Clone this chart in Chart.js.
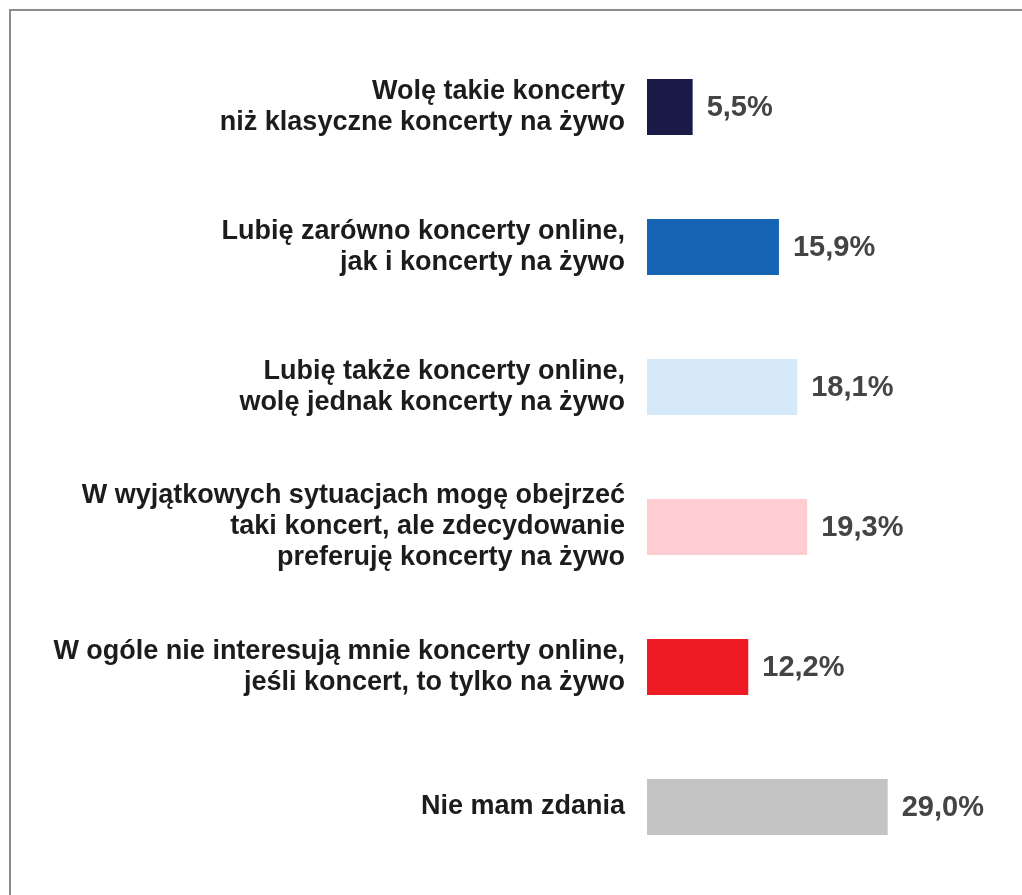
<!DOCTYPE html>
<html>
<head>
<meta charset="utf-8">
<script src="https://cdn.jsdelivr.net/npm/chart.js@4"></script>
<style>
  html, body { margin: 0; padding: 0; background: #fff; }
  #wrap { position: relative; width: 1022px; height: 895px; overflow: hidden; }
  #frame { position: absolute; left: 9px; top: 9px; right: -10px; bottom: -10px;
           border-left: 2px solid #8c8c8c; border-top: 2px solid #8c8c8c; }
  canvas { position: absolute; left: 0; top: 0; }
</style>
</head>
<body>
<div id="wrap">
  <div id="frame"></div>
  <canvas id="chart" width="1022" height="895"></canvas>
</div>
<script>
// Etykiety kategorii (wieloliniowe)
const categories = [
  ['Wolę takie koncerty', 'niż klasyczne koncerty na żywo'],
  ['Lubię zarówno koncerty online,', 'jak i koncerty na żywo'],
  ['Lubię także koncerty online,', 'wolę jednak koncerty na żywo'],
  ['W wyjątkowych sytuacjach mogę obejrzeć', 'taki koncert, ale zdecydowanie', 'preferuję koncerty na żywo'],
  ['W ogóle nie interesują mnie koncerty online,', 'jeśli koncert, to tylko na żywo'],
  ['Nie mam zdania']
];
const values = [5.5, 15.9, 18.1, 19.3, 12.2, 29.0];
const valueLabels = ['5,5%', '15,9%', '18,1%', '19,3%', '12,2%', '29,0%'];
const barColors = ['#1b1a47', '#1565b4', '#d6e9f8', '#fdcdd2', '#ed1c24', '#c4c4c4'];

// Wartości procentowe obok słupków
const valuePlugin = {
  id: 'valueLabels',
  afterDatasetsDraw(chart) {
    const ctx = chart.ctx;
    const meta = chart.getDatasetMeta(0);
    ctx.save();
    ctx.font = 'bold 29px "Liberation Sans", Arial, sans-serif';
    ctx.fillStyle = '#444444';
    ctx.textAlign = 'left';
    ctx.textBaseline = 'middle';
    meta.data.forEach((bar, i) => {
      ctx.fillText(valueLabels[i], bar.x + 14, bar.y + 1);
    });
    ctx.restore();
  }
};

new Chart(document.getElementById('chart').getContext('2d'), {
  type: 'bar',
  data: {
    labels: categories,
    datasets: [{
      data: values,
      backgroundColor: barColors,
      borderWidth: 0,
      categoryPercentage: 1,
      barPercentage: 0.4
    }]
  },
  options: {
    indexAxis: 'y',
    responsive: false,
    animation: false,
    layout: { padding: { top: 37, bottom: 18, right: 43, left: 0 } },
    scales: {
      x: { display: false, min: 0, max: 40 },
      y: {
        grid: { display: false, drawTicks: false },
        border: { display: false },
        afterFit(scale) {
          scale.width = 647;
          // bez dodatkowego marginesu od wieloliniowych etykiet
          scale.paddingTop = 0;
          scale.paddingBottom = 0;
        },
        ticks: {
          padding: 22,
          color: '#1c1c1c',
          font: { family: '"Liberation Sans", Arial, sans-serif', size: 27, weight: 'bold', lineHeight: '31px' }
        }
      }
    },
    plugins: {
      legend: { display: false },
      tooltip: { enabled: false }
    }
  },
  plugins: [valuePlugin]
});
</script>
</body>
</html>
